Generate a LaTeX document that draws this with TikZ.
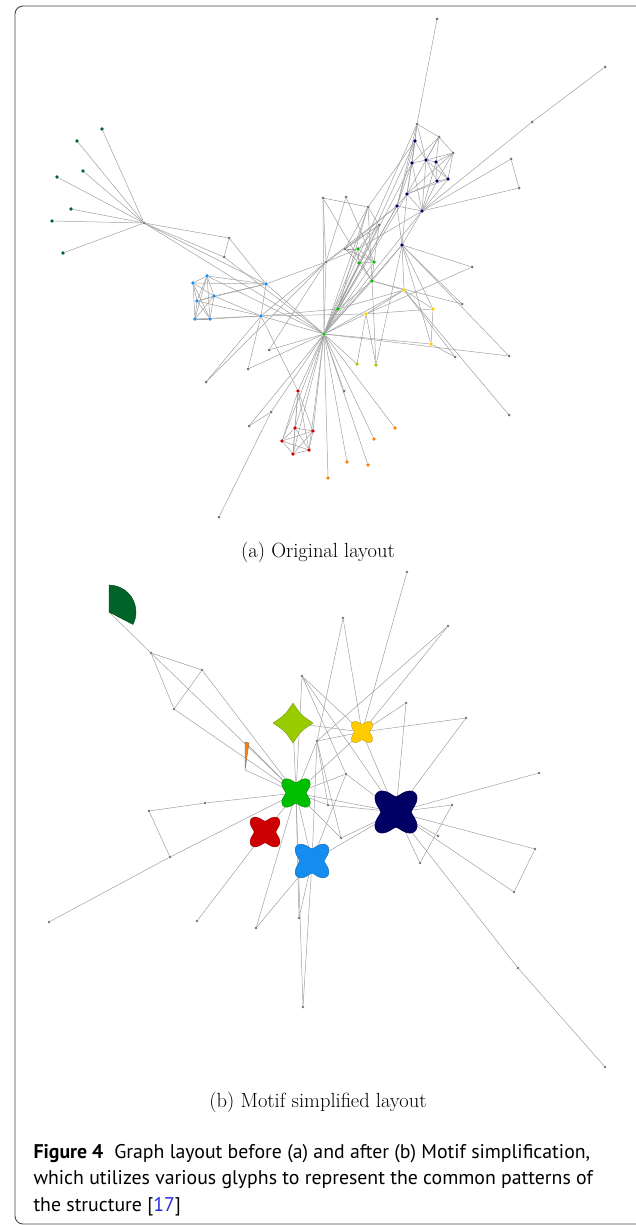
\documentclass[tikz,border=0pt]{standalone}
\usepackage{fontspec}
\newfontfamily\capfont{PT Sans}
\usetikzlibrary{backgrounds}
\definecolor{edgegray}{RGB}{160,160,160}
\definecolor{dotgray}{RGB}{115,115,115}
\definecolor{cdgreen}{RGB}{0,100,40}
\definecolor{cblue}{RGB}{20,140,240}
\definecolor{cnavy}{RGB}{0,0,100}
\definecolor{cgreen}{RGB}{0,190,0}
\definecolor{cyellow}{RGB}{255,204,0}
\definecolor{clime}{RGB}{153,204,0}
\definecolor{cred}{RGB}{204,0,0}
\definecolor{corange}{RGB}{255,128,0}
\definecolor{refblue}{RGB}{40,40,225}
\definecolor{framegray}{RGB}{70,70,70}
\begin{document}
\begin{tikzpicture}[x=1pt,y=-1pt,
  edge/.style={draw=edgegray, line width=0.5pt},
  gdot/.style={circle, inner sep=0pt, minimum size=3pt, fill=dotgray},
  cdot/.style={circle, inner sep=0pt, minimum size=3.8pt, fill=#1},
  glyph/.style={fill=#1, draw=#1!75!black, line width=0.4pt},
  xglyph/.pic={\path[pic actions] plot[domain=0:360, samples=97, smooth cycle]
     ({(1-0.27*cos(4*\x))*cos(\x)}, {(1-0.27*cos(4*\x))*sin(\x)});},
  starglyph/.pic={\path[pic actions] (1,0) .. controls (0.4,0.4) .. (0,1)
     .. controls (-0.4,0.4) .. (-1,0) .. controls (-0.4,-0.4) .. (0,-1)
     .. controls (0.4,-0.4) .. (1,0) -- cycle;},
  subcap/.style={anchor=base, font=\fontsize{20.5}{24}\selectfont},
  capline/.style={anchor=base west, font=\capfont\fontsize{19.8}{26}\selectfont}
]
\useasboundingbox (0,0) rectangle (636,1225);
\draw[framegray, line width=0.9pt, rounded corners=8pt] (645,6) -- (15,6) -- (15,1224) -- (645,1224);

% ---------------- (a) nodes ----------------
\foreach \n/\x/\y in {l1/102/129, l2/77/141, l3/83/171, l4/57/177, l5/71/209, l6/52/221, l7/63/253}
  \node[cdot=cdgreen] (\n) at (\x,\y) {};
\foreach \n/\x/\y in {h/144/223, g1/229/238, g2/224/257, t0/437/19, t1/417/124, t2/439/137, t3/453/153,
  f1/605/67, f2/532/122, f3/511/159, f4/519/188, a1/326/262, a2/345/249, a3/323/198, a4/346/197,
  a5/368/207, a6/379/225, p1/472/267, p2/462/304, p3/455/357, p4/269/350, p5/248/369, p6/206/382,
  p7/344/391, p8/271/412, p9/249/426, p10/219/517, p11/509/356, p12/509/415}
  \node[gdot] (\n) at (\x,\y) {};
\foreach \n/\x/\y in {b1/207/276, b2/193/283, b3/214/296, b4/197/301, b5/195/319, b6/210/319, b7/266/284, b8/261/316}
  \node[cdot=cblue] (\n) at (\x,\y) {};
\foreach \n/\x/\y in {c/324/334, e1/358/249, e2/359/263, e3/374/262, e4/372/281, e5/338/309}
  \node[cdot=cgreen] (\n) at (\x,\y) {};
\foreach \n/\x/\y in {d1/415/141, d2/412/163, d3/426/160, d4/436/162, d5/437/181, d6/448/179,
  d7/407/194, d8/397/206, d9/422/211, d10/402/245}
  \node[cdot=cnavy] (\n) at (\x,\y) {};
\foreach \n/\x/\y in {y1/404/290, y2/366/314, y3/433/309, y4/431/344}
  \node[cdot=cyellow] (\n) at (\x,\y) {};
\foreach \n/\x/\y in {m1/357/364, m2/376/365}
  \node[cdot=clime] (\n) at (\x,\y) {};
\foreach \n/\x/\y in {r1/298/391, r2/295/428, r3/313/431, r4/282/441, r5/293/454, r6/309/450}
  \node[cdot=cred] (\n) at (\x,\y) {};
\foreach \n/\x/\y in {o1/395/428, o2/374/439, o3/347/462, o4/368/465, o5/328/478}
  \node[cdot=corange] (\n) at (\x,\y) {};

% ---------------- (a) edges ----------------
\begin{scope}[on background layer]
\foreach \a/\b in {l1/h, l2/h, l3/h, l4/h, l5/h, l6/h, l7/h,
  h/g1, h/g2, g1/g2, h/b7, h/c, g2/c, g1/b7,
  b1/b2, b1/b3, b1/b4, b1/b5, b1/b6, b2/b3, b2/b4, b2/b5, b2/b6, b3/b4, b3/b5, b3/b6, b4/b5, b4/b6, b5/b6,
  b1/b7, b3/b7, b4/b7, b2/b7, b6/b8, b5/b8, b3/b8, b4/b8, b7/b8, b7/a1, b7/c, b1/c, b8/c, b8/y2, b8/r1, b8/e5, b8/a1,
  p4/a1, p4/c, p5/b8, p5/c, p6/b8, p6/a1, p7/c, p8/p9, p8/c, p9/c, p10/p8,
  c/a1, c/a3, c/a5, c/e1, c/e2, c/e3, c/e4, c/e5, c/d7, c/d8, c/d9, c/d10, c/d2, c/y1, c/y2, c/y4, c/m1, c/p11,
  c/r1, c/r2, c/r3, c/r4, c/r5, c/r6, c/o1, c/o2, c/o3, c/o4, c/o5, c/a6, c/t1,
  a1/a3, a1/a6, a1/d8, a1/e1, a3/a5, a3/e4, a4/e3, a4/a1, a5/a2, a5/e5, a5/d1, a5/e4, a5/a6, a6/a2, a6/e3, a6/e1,
  a2/e1, a2/e2, a2/e3, e1/e2, e1/e3, e2/e3, e2/e4, e3/e4, e4/e5, e4/y1, e4/d10, e4/p2, e5/y1,
  t0/t1, t1/d1, t1/t2, t1/d2, t1/d3, t1/d8, t2/t3, t2/d3, t2/d4, t2/d7, t2/d2, t3/d4, t3/d5, t3/d6, t3/d3, t3/d7,
  d1/d2, d1/d3, d1/d7, d1/d8, d2/d3, d2/d7, d2/d8, d3/d4, d3/d5, d3/d6, d4/d5, d4/d6, d5/d6, d5/d9, d6/d9,
  d7/d8, d7/d9, d8/d9, d8/d10, d9/d10, d7/d10, d2/d9, d5/d7, d6/d7, d3/d9, d4/d9, d1/e5, d8/e5, d8/a2, d9/e1,
  f1/f2, f2/d9, f3/f4, f3/d9, f4/d9,
  d10/y1, d10/y3, d10/p1, d10/p2, d10/y4, d10/m2, d10/p11,
  y1/y2, y1/y3, y1/p3, y1/p12, y2/y3, y2/m1, y2/m2, y2/p1, y3/y4, y4/p3, m2/e4,
  r1/r2, r1/r3, r1/r4, r1/r5, r1/r6, r2/r3, r2/r4, r2/r5, r2/r6, r3/r4, r3/r5, r3/r6, r4/r5, r4/r6, r5/r6}
  \draw[edge] (\a) -- (\b);
\end{scope}

\node[subcap] (capa) at (318,557) {(a) Original layout};

% ---------------- (b) nodes ----------------
\coordinate (sec) at (109,612);
\coordinate (tri1) at (245,742);
\coordinate (tri2) at (245,770);
\coordinate (lime) at (293,723);
\coordinate (gX) at (296,793);
\coordinate (rX) at (265,832);
\coordinate (bX) at (312,861);
\coordinate (yX) at (362,732);
\coordinate (nX) at (396,812);
\foreach \n/\x/\y in {q1/151/653, q2/202/670, q3/174/709, q4/302/676, q5/407/572, q6/343/618,
  q7/448/626, q8/406/703, q9/466/718, q10/317/741, q11/346/774, q12/328/805, q13/341/838,
  q14/205/803, q15/149/811, q16/170/857, q17/49/922, q18/197/921, q19/256/928, q20/299/918,
  q21/303/1007, q22/539/773, q23/452/805, q24/438/836, q25/420/863, q26/535/849, q27/514/892,
  q28/518/968, q29/605/1067}
  \node[gdot, minimum size=2.6pt] (\n) at (\x,\y) {};

\begin{scope}[on background layer]
\foreach \a/\b in {sec/q1, q1/q2, q1/q3, q2/q3, q1/gX, q2/gX, q3/gX, tri1/gX, tri2/gX,
  lime/gX, lime/yX, q4/gX, q4/q11, q4/nX, q4/yX, q5/yX, q6/yX, q6/q10, q7/yX, q7/q10,
  q8/nX, q8/yX, q9/yX, q9/nX, yX/nX, yX/gX, yX/q10,
  q10/gX, q10/bX, q10/q13, q10/q12, q11/gX, q11/nX, q11/bX, q12/gX, q12/nX, q13/gX, q13/nX,
  gX/nX, gX/bX, gX/rX, q14/gX, q15/q14, q15/q16, q16/gX, q16/q17, rX/q18,
  q19/gX, q19/bX, q20/bX, q20/gX, q21/bX, q21/gX,
  nX/q22, nX/q23, q23/q25, nX/q24, nX/q25, nX/q26, q26/q27, nX/q27, nX/q28, q28/q29, bX/nX}
  \draw[edge] (\a) -- (\b);
\end{scope}

% glyphs
\path[glyph=cdgreen] (sec) -- ++(0,-27) arc[start angle=-90, end angle=27.5, radius=27] -- cycle;
\path[fill=corange, draw=dotgray, line width=0.4pt] (tri1) -- (249,743) -- (tri2) -- cycle;
\pic[glyph=clime, scale=20] at (lime) {starglyph};
\pic[glyph=cgreen, scale=14.3] at (gX) {xglyph};
\pic[glyph=cred, scale=15] at (rX) {xglyph};
\pic[glyph=cblue, scale=17] at (bX) {xglyph};
\pic[glyph=cyellow, scale=10.6] at (yX) {xglyph};
\pic[glyph=cnavy, scale=21.3] at (nX) {xglyph};

\node[subcap] (capb) at (318,1107) {(b) Motif simplified layout};

\node[capline] (cap1) at (30,1158) {\textbf{Figure 4}\hspace{0.55em}Graph layout before (a) and after (b) Motif simplification,};
\node[capline] (cap2) at (30,1184.5) {which utilizes various glyphs to represent the common patterns of};
\node[capline] (cap3) at (30,1211) {the structure [\textcolor{refblue}{17}]};
\end{tikzpicture}
\end{document}
